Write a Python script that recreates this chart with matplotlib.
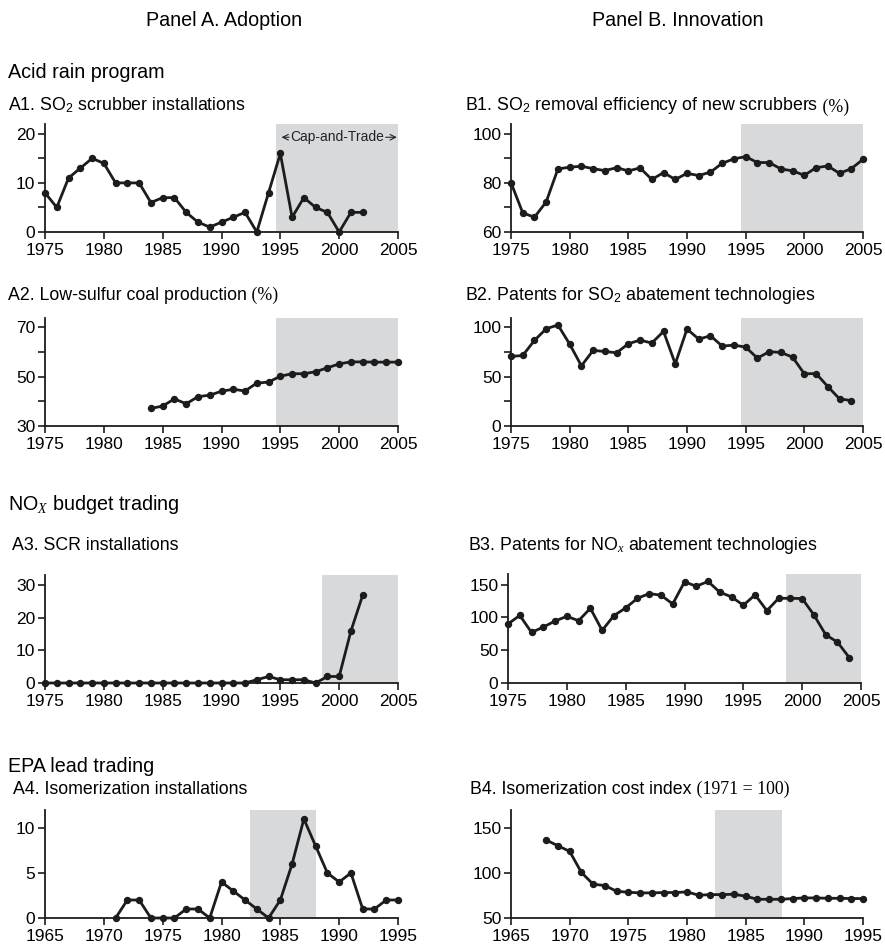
import numpy as np
import matplotlib
matplotlib.use("Agg")
import matplotlib.pyplot as plt

plt.rcParams['font.family'] = ['Liberation Sans', 'DejaVu Sans']
plt.rcParams['mathtext.fontset'] = 'custom'
plt.rcParams['mathtext.rm'] = 'Liberation Sans'
plt.rcParams['mathtext.it'] = 'Liberation Serif:italic'

# ---- data ----
years_a1 = list(range(1975, 2003))
scrubbers = [8, 5, 11, 13, 15, 14, 10, 10, 10, 6, 7, 7, 4, 2, 1, 2, 3, 4, 0, 8,
             16, 3, 7, 5, 4, 0, 4, 4]

years_b1 = list(range(1975, 2006))
removal_eff = [80.1, 67.8, 66.0, 72.3, 85.7, 86.4, 86.8, 85.8, 85.0, 86.2, 84.9,
               86.1, 81.4, 84.2, 81.4, 83.9, 83.0, 84.4, 88.0, 89.8, 90.7, 88.3,
               88.3, 85.7, 84.9, 83.1, 86.2, 86.9, 83.9, 85.8, 89.6]

years_a2 = list(range(1984, 2006))
low_sulfur = [37.1, 38.1, 41.0, 39.0, 41.9, 42.5, 44.1, 44.9, 44.2, 47.4, 47.8,
              50.2, 51.2, 51.2, 52.0, 53.6, 55.2, 56.0, 56.0, 55.9, 55.9, 55.9]

years_b2 = list(range(1975, 2005))
so2_patents = [70.5, 71.5, 86.8, 98.6, 102.4, 83.0, 61.0, 76.6, 75.6, 74.2, 83.4,
               87.1, 84.1, 95.9, 63.0, 98.3, 88.1, 91.5, 81.0, 82.0, 80.0, 68.8,
               75.3, 74.6, 69.8, 52.9, 53.2, 40.0, 27.5, 25.8]

years_a3 = list(range(1975, 2003))
scr = [0] * 18 + [1, 2, 1, 1, 1, 0, 2, 2, 16, 27]

years_b3 = list(range(1975, 2005))
nox_patents = [89.8, 103.0, 77.0, 85.2, 94.4, 101.5, 94.9, 113.8, 80.1, 102.6,
               114.3, 129.0, 136.2, 133.7, 120.4, 154.0, 147.4, 154.6, 138.3,
               131.1, 118.4, 134.2, 110.2, 129.0, 129.0, 128.6, 103.6, 73.5,
               62.2, 38.8]

years_a4 = list(range(1971, 1996))
isomer = [0, 2, 2, 0, 0, 0, 1, 1, 0, 4, 3, 2, 1, 0, 2, 6, 11, 8, 5, 4, 5, 1, 1, 2, 2]

years_b4 = list(range(1968, 1996))
cost_index = [136.6, 130.3, 124.0, 100.6, 87.5, 86.1, 79.7, 78.6, 77.9, 77.9,
              78.3, 78.3, 79.0, 75.3, 76.0, 76.0, 76.4, 74.2, 70.8, 70.8, 70.8,
              71.6, 72.3, 72.3, 71.9, 71.9, 71.6, 71.6]

W, H = 885, 948
fig = plt.figure(figsize=(W / 100, H / 100), dpi=100)

LINE = '#1c1c1c'
SHADE = '#d8d9db'
SERIF = ['Liberation Serif', 'DejaVu Serif']
TSIZE = 12.8   # panel titles
HSIZE = 14.2   # section headers


def px_axes(left, top, right, bottom):
    return fig.add_axes([left / W, 1 - bottom / H, (right - left) / W, (bottom - top) / H])


def ftext(x, y, s, size=12, **kw):
    return fig.text(x / W, 1 - y / H, s, fontsize=size, va='center', **kw)


def panel(ax, x, y, xlim, ylim, ylabels, minor, shade):
    ax.axvspan(shade[0], shade[1], color=SHADE, lw=0, zorder=0)
    ax.plot(x, y, '-o', color=LINE, lw=2.0, ms=4.3, clip_on=False, zorder=3)
    ax.set_xlim(*xlim)
    ax.set_ylim(*ylim)
    ax.set_xticks(np.arange(xlim[0], xlim[1] + 1, 5))
    ax.set_yticks(ylabels)
    ax.set_yticks(minor, minor=True)
    for side in ['top', 'right']:
        ax.spines[side].set_visible(False)
    for side in ['left', 'bottom']:
        ax.spines[side].set_linewidth(1.3)
        ax.spines[side].set_color(LINE)
    ax.tick_params(which='both', direction='out', length=5, width=1.2, color=LINE,
                   labelsize=12.5, pad=2)
    ax.tick_params(axis='x', pad=3)


# column geometry (pixels)
AL, AR = 45, 398
BL, BR = 511, 863

# Row 1
ax = px_axes(AL, 124, AR, 232)
panel(ax, years_a1, scrubbers, (1975, 2005), (0, 22), [0, 10, 20], [5, 15], (1994.6, 2005))
t = ax.text(1999.85, 19.3, 'Cap-and-Trade', ha='center', va='center', fontsize=10,
            color='#222222')
ax.annotate('', xy=(1995.1, 19.3), xytext=(0, 0.5), textcoords=t,
            arrowprops=dict(arrowstyle='->', lw=0.8, color='#222222', shrinkA=1, shrinkB=0))
ax.annotate('', xy=(2004.9, 19.3), xytext=(1, 0.5), textcoords=t,
            arrowprops=dict(arrowstyle='->', lw=0.8, color='#222222', shrinkA=1, shrinkB=0))

ax = px_axes(BL, 124, BR, 232)
panel(ax, years_b1, removal_eff, (1975, 2005), (60, 104), [60, 80, 100], [70, 90], (1994.6, 2005))

# Row 2
ax = px_axes(AL, 318, AR, 426)
panel(ax, years_a2, low_sulfur, (1975, 2005), (30, 73.8), [30, 50, 70], [40, 60], (1994.6, 2005))

ax = px_axes(BL, 318, BR, 426)
panel(ax, years_b2, so2_patents, (1975, 2005), (0, 109.5), [0, 50, 100], [25, 75], (1994.6, 2005))

# Row 3
ax = px_axes(AL, 575, AR, 683)
panel(ax, years_a3, scr, (1975, 2005), (0, 33.2), [0, 10, 20, 30], [], (1998.5, 2005))

ax = px_axes(508, 574, 861, 683)
panel(ax, years_b3, nox_patents, (1975, 2005), (0, 166), [0, 50, 100, 150], [], (1998.6, 2005))

# Row 4
ax = px_axes(AL, 810, AR, 918)
panel(ax, years_a4, isomer, (1965, 1995), (0, 12), [0, 5, 10], [], (1982.4, 1988.0))

ax = px_axes(BL, 810, BR, 918)
panel(ax, years_b4, cost_index, (1965, 1995), (50, 170), [50, 100, 150], [], (1982.4, 1988.1))

# headers and titles
ftext(224, 20, 'Panel A. Adoption', size=HSIZE, ha='center')
ftext(678, 20, 'Panel B. Innovation', size=HSIZE, ha='center')
ftext(8, 73, 'Acid rain program', size=HSIZE)
ftext(8, 504, 'NO$_X$ budget trading', size=HSIZE)
ftext(8, 766, 'EPA lead trading', size=HSIZE)

# serif pieces are appended right after the sans title text
ftext(8, 105, 'A1. SO$_2$ scrubber installations', size=TSIZE)
tb1 = ftext(465, 105, 'B1. SO$_2$ removal efficiency of new scrubbers', size=TSIZE)
ax.annotate(' (%)', xy=(1, 0), xycoords=tb1, va='bottom', fontsize=TSIZE, family=SERIF)
ta2 = ftext(8, 296, 'A2. Low-sulfur coal production', size=TSIZE)
ax.annotate(' (%)', xy=(1, 0), xycoords=ta2, va='bottom', fontsize=TSIZE, family=SERIF)
ftext(465, 296, 'B2. Patents for SO$_2$ abatement technologies', size=TSIZE)
ftext(12, 546, 'A3. SCR installations', size=TSIZE)
ftext(468, 546, 'B3. Patents for NO$_x$ abatement technologies', size=TSIZE)
ftext(13, 790, 'A4. Isomerization installations', size=TSIZE)
tb4 = ftext(470, 790, 'B4. Isomerization cost index', size=TSIZE)
ax.annotate(' (1971 = 100)', xy=(1, 0), xycoords=tb4, va='bottom', fontsize=TSIZE, family=SERIF)

fig.savefig('out.png', dpi=100)
